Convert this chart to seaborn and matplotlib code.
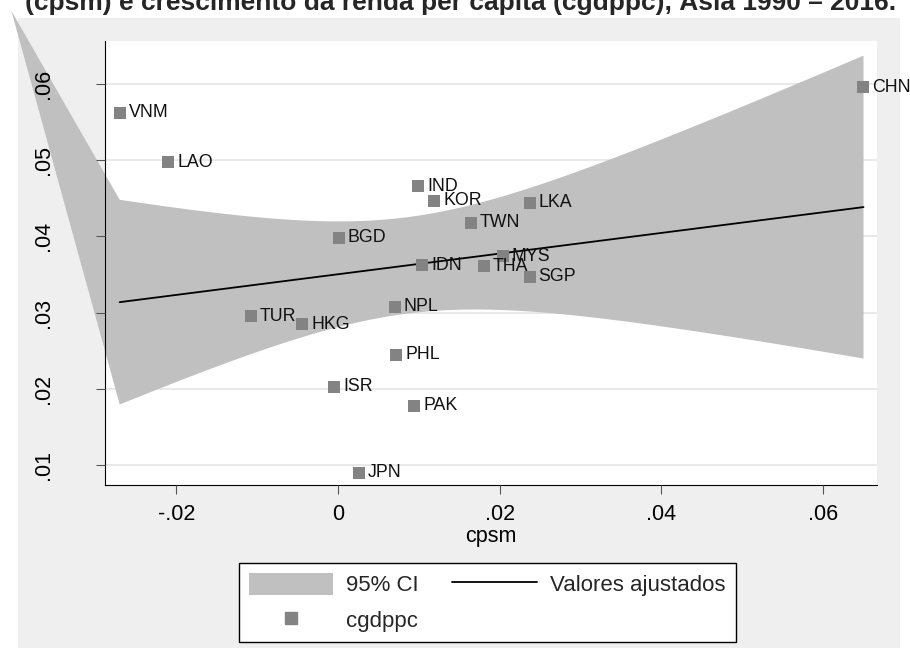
import numpy as np
import pandas as pd
import matplotlib
matplotlib.use('Agg')
import matplotlib.pyplot as plt
import seaborn as sns
from matplotlib.patches import Patch, Rectangle
from matplotlib.lines import Line2D

# dados
paises = ['VNM', 'LAO', 'CHN', 'IND', 'KOR', 'LKA', 'TWN', 'BGD', 'MYS', 'IDN',
          'THA', 'SGP', 'NPL', 'HKG', 'PHL', 'TUR', 'ISR', 'PAK', 'JPN']
cpsm = [-0.0270, -0.0210, 0.0650, 0.0099, 0.0119, 0.0237, 0.0164, 0.0001, 0.0204, 0.0104,
        0.0180, 0.0237, 0.0070, -0.0044, 0.0072, -0.0108, -0.0005, 0.0094, 0.0026]
cgdppc = [0.0562, 0.0497, 0.0596, 0.0466, 0.0447, 0.0444, 0.0418, 0.0398, 0.0374, 0.0362,
          0.0361, 0.0347, 0.0308, 0.0285, 0.0245, 0.0295, 0.0203, 0.0178, 0.0090]

# vertice estranho do poligono do IC (artefato do grafico original)
ic_ponta_x = -0.0404
ic_ponta_y = 0.0696

x_ticks = [-0.02, 0, 0.02, 0.04, 0.06]
x_labels = ['-.02', '0', '.02', '.04', '.06']
y_ticks = [0.01, 0.02, 0.03, 0.04, 0.05, 0.06]
y_labels = ['.01', '.02', '.03', '.04', '.05', '.06']

titulo = '(cpsm) e crescimento da renda per capita (cgdppc), Ásia 1990 – 2016.'

cor_fundo = '#efefef'
cor_ic = '#c0c0c0'
cor_ponto = '#838383'

sns.set_theme(style='white')
plt.rcParams['font.family'] = ['Liberation Sans', 'DejaVu Sans']

df = pd.DataFrame({'pais': paises, 'cpsm': cpsm, 'cgdppc': cgdppc})

# regressao linear e intervalo de confianca de 95%
b, a = np.polyfit(df['cpsm'], df['cgdppc'], 1)
n = len(df)
xs = np.linspace(df['cpsm'].min(), df['cpsm'].max(), 100)
yhat = a + b * xs
resid = df['cgdppc'] - (a + b * df['cpsm'])
s = np.sqrt((resid ** 2).sum() / (n - 2))
sxx = ((df['cpsm'] - df['cpsm'].mean()) ** 2).sum()
se = s * np.sqrt(1 / n + (xs - df['cpsm'].mean()) ** 2 / sxx)
t = 2.1098
lo = yhat - t * se
hi = yhat + t * se

W, H = 910, 649
fig = plt.figure(figsize=(W / 100, H / 100), dpi=100)
fig.patches.append(Rectangle((18 / W, 1 / H), 882 / W, 630 / H, transform=fig.transFigure,
                             facecolor=cor_fundo, edgecolor='none', zorder=-1))
ax = fig.add_axes([105 / W, 1 - 485 / H, 772 / W, 444 / H])
ax.set_facecolor('white')

# linhas de grade por baixo da banda
for yv in y_ticks:
    ax.axhline(yv, color='#e3e3e3', lw=1.1, zorder=0.5)

# banda do IC
px = np.concatenate([[ic_ponta_x], xs, xs[::-1]])
py = np.concatenate([[ic_ponta_y], hi, lo[::-1]])
ax.fill(px, py, color=cor_ic, lw=0, clip_on=False, zorder=1)

# linha ajustada
sns.lineplot(x=xs, y=yhat, color='black', lw=1.3, ax=ax, zorder=2)

# pontos
sns.scatterplot(data=df, x='cpsm', y='cgdppc', marker='s', s=64, color=cor_ponto,
                linewidth=0, ax=ax, zorder=3)

for _, row in df.iterrows():
    ax.annotate(row['pais'], (row['cpsm'], row['cgdppc']), xytext=(6.5, 0),
                textcoords='offset points', va='center', ha='left',
                fontsize=12.8, color='#111111', zorder=4)

ax.set_xlim(-0.02882, 0.06667)
ax.set_ylim(0.00738, 0.06564)
ax.set_xticks(x_ticks)
ax.set_xticklabels(x_labels)
ax.set_yticks(y_ticks)
ax.set_yticklabels(y_labels, rotation=90, va='center')
ax.tick_params(direction='out', length=6.5, width=0.8, color='#555555', labelsize=15.5,
               left=True, bottom=True, labelcolor='black')
ax.tick_params(axis='y', pad=30)
ax.tick_params(axis='x', pad=7)
ax.grid(False)
ax.set_axisbelow(False)
for lado in ['top', 'right']:
    ax.spines[lado].set_visible(False)
for lado in ['left', 'bottom']:
    ax.spines[lado].set_color('black')
    ax.spines[lado].set_linewidth(0.8)
ax.set_xlabel('cpsm', fontsize=15.5, labelpad=1, color='black')
ax.set_ylabel('')

# legenda
handles = [Patch(facecolor=cor_ic, edgecolor='none'),
           Line2D([], [], marker='s', color=cor_ponto, linestyle='none', markersize=8),
           Line2D([], [], color='black', lw=1.3)]
labels = ['95% CI', 'cgdppc', 'Valores ajustados']
leg = fig.legend(handles, labels, ncol=2, loc='upper left',
                 bbox_to_anchor=(238.6 / W, 1 - 563.2 / H), bbox_transform=fig.transFigure,
                 fontsize=16, frameon=True, fancybox=False, edgecolor='black', framealpha=1,
                 borderpad=0.45, handlelength=3.8, handleheight=1.1, handletextpad=0.6,
                 columnspacing=1.5, labelspacing=0.55, borderaxespad=0)
leg.get_frame().set_linewidth(1.0)
leg.get_frame().set_facecolor('white')

fig.text(461 / W, 1 - 10 / H, titulo, ha='center', va='baseline', fontsize=19,
         fontweight='bold')

fig.savefig('out.png', dpi=100)
